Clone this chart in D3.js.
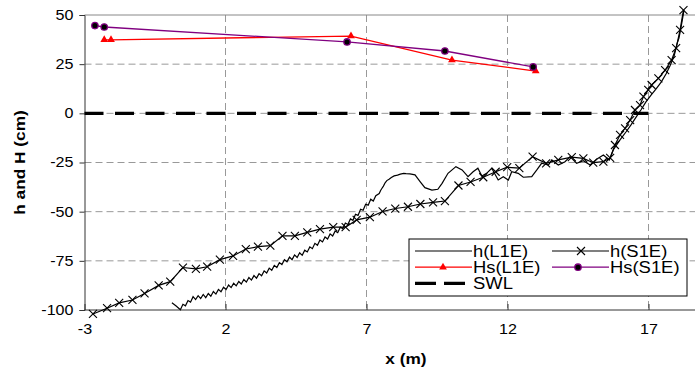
<!DOCTYPE html>
<html>
<head>
<meta charset="utf-8">
<script src="https://cdn.jsdelivr.net/npm/d3@7"></script>
<style>
  body { margin: 0; background: #fff; }
  svg { display: block; font-family: "Liberation Sans", Arial, sans-serif; }
</style>
</head>
<body>
<svg width="695" height="369"></svg>
<script>
// Tick labels
const xTicks = [-3, 2, 7, 12, 17]
const yTicks = [-100, -75, -50, -25, 0, 25, 50]

// h(L1E) - measured profile, long flume
const hL1eX = [0.10, 0.25, 0.40, 0.49, 0.58, 0.67, 0.76, 0.85, 0.94, 1.03, 1.12, 1.21, 1.30, 1.39,
  1.48, 1.57, 1.66, 1.75, 1.84, 1.93, 2.02, 2.11, 2.20, 2.29, 2.38, 2.47, 2.56, 2.65, 2.74, 2.83,
  2.92, 3.01, 3.10, 3.19, 3.28, 3.37, 3.46, 3.55, 3.64, 3.73, 3.82, 3.91, 4.00, 4.09, 4.18, 4.27,
  4.36, 4.45, 4.54, 4.63, 4.72, 4.81, 4.90, 4.99, 5.08, 5.17, 5.26, 5.35, 5.44, 5.53, 5.62, 5.71,
  5.80, 5.89, 5.98, 6.07, 6.16, 6.25, 6.34, 6.43, 6.52, 6.61, 6.70, 6.79, 6.88, 6.97, 7.06, 7.15,
  7.24, 7.33, 7.45, 7.50, 7.55, 7.60, 7.66, 7.72, 7.80, 7.88, 7.98, 8.10, 8.20, 8.32, 8.40, 8.54,
  8.72, 8.90, 9.07, 9.32, 9.53, 9.68, 9.89, 10.17, 10.39, 10.60, 10.78, 10.95, 11.09, 11.26, 11.44,
  11.67, 11.85, 12.03, 12.15, 12.38, 12.56, 12.86, 13.04, 13.21, 13.45, 13.57, 13.80, 14.04, 14.22,
  14.45, 14.69, 14.93, 15.16, 15.40, 15.61, 15.75, 15.99, 16.20, 16.38, 16.56, 16.73, 16.91, 17.09,
  17.27, 17.45, 17.62, 17.76, 17.91, 18.01, 18.08, 18.15, 18.26]
const hL1eY = [-96.3, -98.0, -99.9, -97.1, -97.9, -95.2, -96.0, -93.2, -94.7, -92.7, -94.2, -92.1, -93.7, -91.6,
  -93.0, -90.6, -91.9, -89.5, -90.7, -88.4, -89.6, -87.3, -88.6, -86.4, -87.7, -85.5, -86.8, -84.5, -85.8, -83.5,
  -84.8, -82.5, -83.8, -81.5, -82.6, -80.1, -81.2, -78.7, -79.8, -77.3, -78.4, -75.9, -76.9, -74.4, -75.5, -73.1,
  -74.4, -72.0, -73.3, -70.9, -72.2, -69.6, -70.5, -67.9, -68.8, -66.1, -67.1, -64.4, -65.4, -62.9, -63.9, -61.3,
  -62.4, -59.8, -60.7, -57.9, -58.6, -55.8, -56.5, -53.7, -54.4, -51.3, -51.9, -48.8, -49.3, -46.2, -46.7, -43.7,
  -44.6, -41.9, -40.8, -39.2, -38.1, -37.0, -35.3, -34.2, -33.5, -32.6, -31.8, -31.4, -30.9, -30.5, -30.7, -30.8,
  -31.3, -34.7, -37.8, -39.0, -38.6, -35.6, -30.5, -27.1, -28.8, -32.2, -29.7, -27.9, -31.9, -30.5, -27.9,
  -33.9, -32.2, -33.9, -29.7, -30.5, -32.5, -32.2, -28.8, -25.4, -26.3, -23.7, -26.3, -24.6, -22.0,
  -25.4, -24.1, -26.3, -23.4, -21.2, -23.7, -18.6, -13.5, -9.5, -5.9, -1.9, 1.7, 5.8, 9.3,
  12.4, 15.9, 20.0, 24.1, 29.2, 35.3, 38.3, 43.4, 52.5]

// h(S1E) - measured profile, short flume (with markers)
const hS1eX = [-2.70, -2.20, -1.77, -1.30, -0.87, -0.37, 0.04, 0.49, 0.95, 1.35, 1.80, 2.27, 2.72, 3.15,
  3.59, 4.02, 4.46, 4.90, 5.35, 5.82, 6.26, 6.65, 7.12, 7.57, 8.02, 8.47, 8.91, 9.36, 9.78, 10.26,
  10.69, 11.14, 11.58, 11.99, 12.42, 12.89, 13.37, 13.80, 14.28, 14.69, 15.04, 15.40, 15.64, 15.81,
  15.99, 16.17, 16.35, 16.52, 16.70, 16.82, 16.99, 17.11, 17.35, 17.59, 17.82, 17.98, 18.12, 18.24]
const hS1eY = [-102.0, -99.1, -96.4, -94.9, -91.6, -87.5, -85.6, -78.4, -79.1, -78.0, -74.4, -72.5, -69.0, -67.8,
  -67.3, -62.3, -62.3, -60.5, -58.9, -57.9, -57.9, -54.2, -52.8, -49.9, -48.4, -47.5, -46.1, -45.3, -44.6, -36.7,
  -34.9, -32.5, -29.7, -27.4, -27.9, -22.0, -25.4, -23.7, -22.3, -22.9, -25.1, -24.6, -22.7, -16.1,
  -11.0, -7.6, -3.4, 1.7, 4.2, 8.5, 11.9, 14.4, 17.8, 22.0, 27.1, 33.2, 42.4, 52.5]

// Significant wave heights
const hsL1eX = [-2.30, -2.06, 6.45, 10.03, 13.00]
const hsL1eY = [37.4, 37.4, 39.3, 27.1, 21.5]
const hsS1eX = [-2.63, -2.30, 6.31, 9.78, 12.91]
const hsS1eY = [44.6, 43.9, 36.3, 31.7, 23.6]

// Still water level
const swlX = [-3, 17]
const swlY = [0, 0]

const zip = (xs, ys) => xs.map((x, i) => [x, ys[i]])

let margin = { left: 84.5, top: 15, bottom: 59 }
let svg = d3.select('svg')

let x = d3.scaleLinear().domain([-3, 19]).range([margin.left, margin.left + 22 * 28.2])
let y = d3.scaleLinear().domain([-100, 50]).range([369 - margin.bottom, margin.top])

let line = d3.line().x(d => x(d[0])).y(d => y(d[1]))

// Grid
svg.append('g')
  .selectAll('line')
  .data(xTicks.slice(1))
  .enter().append('line')
  .attr('x1', d => x(d)).attr('x2', d => x(d))
  .attr('y1', y(50)).attr('y2', y(-100))
  .attr('stroke', '#999').attr('stroke-dasharray', '7,4')

svg.append('g')
  .selectAll('line')
  .data(yTicks.slice(1, -1))
  .enter().append('line')
  .attr('x1', x(-3)).attr('x2', 695)
  .attr('y1', d => y(d)).attr('y2', d => y(d))
  .attr('stroke', '#999').attr('stroke-dasharray', '7,4')

// Top frame
svg.append('line')
  .attr('x1', x(-3)).attr('x2', 695)
  .attr('y1', y(50)).attr('y2', y(50))
  .attr('stroke', '#888')

// Axes (plain hyphen for negatives, like the original)
let yAxis = svg.append('g')
  .attr('transform', `translate(${x(-3)},0)`)
  .call(d3.axisLeft(y).tickValues(yTicks).tickFormat(d => String(d)).tickSize(5).tickPadding(6))
let xAxis = svg.append('g')
  .attr('transform', `translate(0,${y(-100)})`)
  .call(d3.axisBottom(x).tickValues(xTicks).tickFormat(d => String(d)).tickSize(-6).tickPadding(14))

for (let ax of [xAxis, yAxis]) {
  ax.select('.domain').attr('stroke', '#333')
  ax.selectAll('.tick line').attr('stroke', '#333')
  ax.selectAll('text').attr('font-size', 14).attr('fill', '#000')
    .attr('font-family', '"Liberation Sans", Arial, sans-serif')
}
xAxis.select('.domain').attr('d', `M${x(-3)},0H695`)

// SWL
svg.append('path')
  .attr('d', line(zip(swlX, swlY)))
  .attr('fill', 'none').attr('stroke', '#000')
  .attr('stroke-width', 3.3).attr('stroke-dasharray', '19,11.5')

// Profiles
svg.append('path')
  .attr('d', line(zip(hL1eX, hL1eY)))
  .attr('fill', 'none').attr('stroke', '#000').attr('stroke-width', 1.2)

svg.append('path')
  .attr('d', line(zip(hS1eX, hS1eY)))
  .attr('fill', 'none').attr('stroke', '#000').attr('stroke-width', 1.2)

const cross = (sel, s) => sel.append('path')
  .attr('d', `M${-s},${-s}L${s},${s}M${-s},${s}L${s},${-s}`)
  .attr('stroke', '#000').attr('stroke-width', 1.1)

svg.append('g')
  .selectAll('g')
  .data(zip(hS1eX, hS1eY))
  .enter().append('g')
  .attr('transform', d => `translate(${x(d[0])},${y(d[1])})`)
  .call(g => cross(g, 4))

// Hs lines
const tri = d3.symbol().type(d3.symbolTriangle).size(26)

svg.append('path')
  .attr('d', line(zip(hsL1eX, hsL1eY)))
  .attr('fill', 'none').attr('stroke', '#ff0000').attr('stroke-width', 1.3)
svg.append('g')
  .selectAll('path')
  .data(zip(hsL1eX, hsL1eY))
  .enter().append('path')
  .attr('d', tri)
  .attr('transform', d => `translate(${x(d[0])},${y(d[1])})`)
  .attr('fill', '#ff0000')

svg.append('path')
  .attr('d', line(zip(hsS1eX, hsS1eY)))
  .attr('fill', 'none').attr('stroke', '#800080').attr('stroke-width', 1.3)
svg.append('g')
  .selectAll('circle')
  .data(zip(hsS1eX, hsS1eY))
  .enter().append('circle')
  .attr('cx', d => x(d[0])).attr('cy', d => y(d[1]))
  .attr('r', 3.2)
  .attr('fill', '#000').attr('stroke', '#800080').attr('stroke-width', 1.3)

// Axis titles
svg.append('text')
  .text('x (m)')
  .attr('x', 406).attr('y', 364)
  .attr('text-anchor', 'middle')
  .attr('font-size', 15).attr('font-weight', 'bold')

svg.append('text')
  .text('h and H (cm)')
  .attr('transform', `translate(25,${(y(50) + y(-100)) / 2}) rotate(-90)`)
  .attr('text-anchor', 'middle')
  .attr('font-size', 15).attr('font-weight', 'bold')

// Legend
let leg = svg.append('g').attr('transform', 'translate(409,239)')
leg.append('rect')
  .attr('width', 278).attr('height', 57)
  .attr('fill', '#fff').attr('stroke', '#000')

let items = [
  { name: 'h(L1E)', col: 0, row: 0, color: '#000' },
  { name: 'h(S1E)', col: 1, row: 0, color: '#000', mark: 'cross' },
  { name: 'Hs(L1E)', col: 0, row: 1, color: '#ff0000', mark: 'tri' },
  { name: 'Hs(S1E)', col: 1, row: 1, color: '#800080', mark: 'dot' },
  { name: 'SWL', col: 0, row: 2, color: '#000', dash: true }
]

items.forEach(it => {
  let gx = it.col ? 143 : 6
  let gy = 12 + it.row * 16.2
  let g = leg.append('g').attr('transform', `translate(${gx},${gy})`)
  g.append('line')
    .attr('x1', 0).attr('x2', 57)
    .attr('stroke', it.color)
    .attr('stroke-width', it.dash ? 3.3 : (it.color == '#000' ? 1.2 : 1.3))
    .attr('stroke-dasharray', it.dash ? '21,8' : null)
  if (it.mark == 'cross') {
    cross(g.append('g').attr('transform', 'translate(29,0)'), 4)
  } else if (it.mark == 'tri') {
    g.append('path').attr('d', tri).attr('transform', 'translate(28,0)').attr('fill', it.color)
  } else if (it.mark == 'dot') {
    g.append('circle').attr('cx', 26).attr('r', 3.2)
      .attr('fill', '#000').attr('stroke', it.color).attr('stroke-width', 1.3)
  }
  g.append('text')
    .text(it.name)
    .attr('x', 58).attr('y', 5.5)
    .attr('font-size', 16)
})

// The original chart's lettering is slightly wide; stretch every label
svg.selectAll('text').each(function () {
  let w = this.getComputedTextLength()
  this.setAttribute('textLength', w * 1.15)
  this.setAttribute('lengthAdjust', 'spacingAndGlyphs')
})
</script>
</body>
</html>
